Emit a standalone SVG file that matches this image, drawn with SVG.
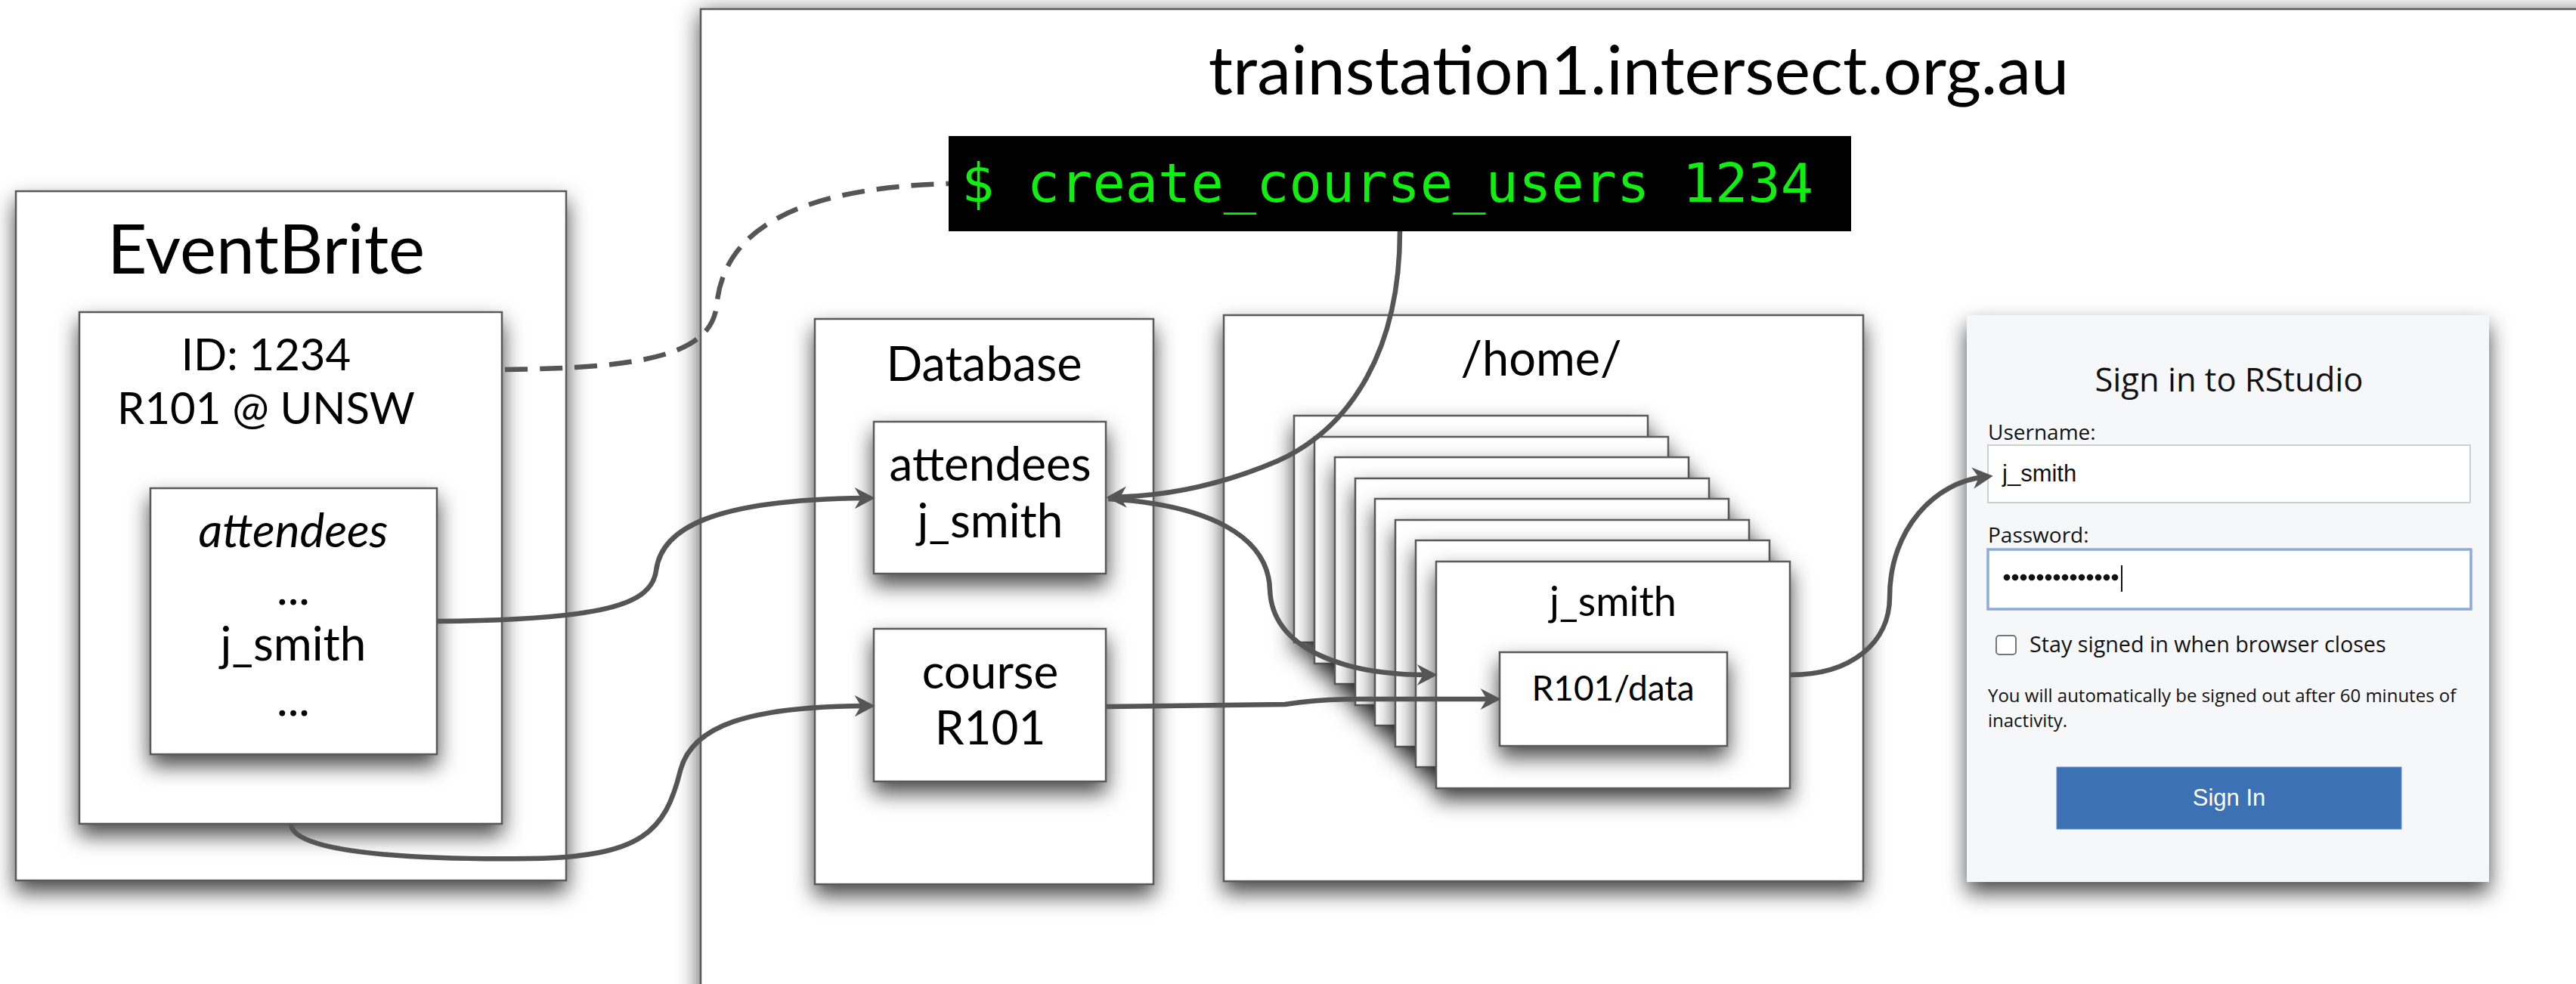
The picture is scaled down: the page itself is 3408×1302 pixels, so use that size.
<svg xmlns="http://www.w3.org/2000/svg" width="3408" height="1302" viewBox="0 0 3408 1302">
<defs>
<filter id="shadow" x="-30%" y="-30%" width="160%" height="170%" color-interpolation-filters="sRGB">
<feDropShadow dx="0" dy="14" stdDeviation="14" flood-color="#000" flood-opacity="0.72"/>
</filter>
<filter id="shadowBig" x="-5%" y="-5%" width="110%" height="110%" color-interpolation-filters="sRGB">
<feDropShadow dx="0" dy="6" stdDeviation="15" flood-color="#000" flood-opacity="0.7"/>
</filter>
<marker id="arrow" markerUnits="userSpaceOnUse" markerWidth="40" markerHeight="40" viewBox="-30 -16 34 32" refX="-10" refY="0" orient="auto">
<path d="M0,0 L-23,-12 L-16,0 L-23,12 Z" fill="#555"/>
</marker>
</defs>
<style>
.box{fill:#fff;stroke:#5a5a5a;stroke-width:2.5}
.lbl{font-family:Lato,'Liberation Sans',sans-serif;fill:#000;text-anchor:middle}
.conn{fill:none;stroke:#555;stroke-width:6.5}
.ui{font-family:'Open Sans','DejaVu Sans',sans-serif;fill:#111}
</style>
<rect width="3408" height="1302" fill="#fff"/>

<g id="eventbrite">
<rect class="box" x="21" y="253" width="728" height="912" filter="url(#shadow)"/>
<text class="lbl" x="352" y="362" font-size="91">EventBrite</text>
</g>
<g id="eventbrite-course">
<rect class="box" x="105" y="413" width="559" height="677" filter="url(#shadow)"/>
<text class="lbl" x="352" y="490" font-size="58">ID: 1234</text>
<text class="lbl" x="352" y="561" font-size="58">R101 @ UNSW</text>
</g>
<g id="eventbrite-attendees">
<rect class="box" x="199" y="646" width="379" height="352" filter="url(#shadow)"/>
<text class="lbl" x="388" y="724" font-size="62" font-style="italic">attendees</text>
<text class="lbl" x="388" y="800" font-size="62">...</text>
<text class="lbl" x="388" y="874" font-size="62">j_smith</text>
<text class="lbl" x="388" y="947" font-size="62">...</text>
</g>

<g id="trainstation">
<rect class="box" x="927" y="12" width="2600" height="1400" filter="url(#shadowBig)"/>
<text class="lbl" x="2168" y="125" font-size="90">trainstation1.intersect.org.au</text>
</g>
<g id="command">
<rect x="1255" y="180" width="1194" height="126" fill="#000"/>
<text x="1272" y="267" font-family="'DejaVu Sans Mono','Liberation Mono',monospace" font-size="72" fill="#11ee11">$ create_course_users 1234</text>
</g>

<g id="database">
<rect class="box" x="1078" y="422" width="448" height="748" filter="url(#shadow)"/>
<text class="lbl" x="1302" y="504" font-size="63">Database</text>
</g>
<g id="db-attendees">
<rect class="box" x="1156" y="558" width="307" height="201" filter="url(#shadow)"/>
<text class="lbl" x="1310" y="636" font-size="62">attendees</text>
<text class="lbl" x="1310" y="711" font-size="62">j_smith</text>
</g>
<g id="db-course">
<rect class="box" x="1156" y="832" width="307" height="202" filter="url(#shadow)"/>
<text class="lbl" x="1310" y="911" font-size="62">course</text>
<text class="lbl" x="1310" y="985" font-size="62">R101</text>
</g>

<g id="home">
<rect class="box" x="1619" y="417" width="846" height="749" filter="url(#shadow)"/>
<text class="lbl" x="2039" y="497" font-size="63">/home/</text>
</g>
<g id="home-users">
<rect class="box" x="1712" y="550" width="468" height="300" filter="url(#shadow)"/>
<rect class="box" x="1739" y="578" width="468" height="300" filter="url(#shadow)"/>
<rect class="box" x="1766" y="605" width="468" height="300" filter="url(#shadow)"/>
<rect class="box" x="1793" y="633" width="468" height="300" filter="url(#shadow)"/>
<rect class="box" x="1819" y="660" width="468" height="300" filter="url(#shadow)"/>
<rect class="box" x="1846" y="688" width="468" height="300" filter="url(#shadow)"/>
<rect class="box" x="1873" y="715" width="468" height="300" filter="url(#shadow)"/>
</g>
<g id="home-jsmith">
<rect class="box" x="1900" y="743" width="468" height="300" filter="url(#shadow)"/>
<text class="lbl" x="2134" y="815" font-size="54">j_smith</text>
</g>
<g id="home-data">
<rect class="box" x="1984" y="863" width="301" height="124" filter="url(#shadow)"/>
<text class="lbl" x="2134" y="927" font-size="46">R101/data</text>
</g>

<g id="rstudio">
<rect x="2602" y="417" width="691" height="750" fill="#f6f7f9" filter="url(#shadow)"/>
<text class="ui" x="2949" y="518" font-size="43.5" text-anchor="middle">Sign in to RStudio</text>
<text class="ui" x="2630" y="582" font-size="28">Username:</text>
<rect x="2630" y="589" width="638" height="76" fill="#fff" stroke="#cfcfcf" stroke-width="2"/>
<text x="2649" y="637" font-family="'Liberation Sans',Arial,sans-serif" font-size="31" fill="#111">j_smith</text>
<text class="ui" x="2630" y="718" font-size="28">Password:</text>
<rect x="2630" y="727" width="639" height="79" fill="#fff" stroke="#8ea9dc" stroke-width="3.5"/>
<g fill="#111">
<circle cx="2655" cy="764" r="4.3"/><circle cx="2666" cy="764" r="4.3"/><circle cx="2677" cy="764" r="4.3"/><circle cx="2688" cy="764" r="4.3"/><circle cx="2699" cy="764" r="4.3"/><circle cx="2710" cy="764" r="4.3"/><circle cx="2721" cy="764" r="4.3"/><circle cx="2732" cy="764" r="4.3"/><circle cx="2743" cy="764" r="4.3"/><circle cx="2754" cy="764" r="4.3"/><circle cx="2765" cy="764" r="4.3"/><circle cx="2776" cy="764" r="4.3"/><circle cx="2787" cy="764" r="4.3"/><circle cx="2798" cy="764" r="4.3"/>
</g>
<rect x="2806" y="748" width="2" height="35" fill="#111"/>
<rect x="2641" y="841" width="26" height="25" rx="4" fill="#fff" stroke="#777" stroke-width="2"/>
<text class="ui" x="2685" y="863" font-size="28.7">Stay signed in when browser closes</text>
<text class="ui" x="2630" y="929" font-size="24">You will automatically be signed out after 60 minutes of</text>
<text class="ui" x="2630" y="962" font-size="24">inactivity.</text>
<rect x="2721" y="1015" width="456" height="82" fill="#3c72b4" stroke="#5b8fcf" stroke-width="1"/>
<text x="2949" y="1066" font-family="'Liberation Sans',Arial,sans-serif" font-size="31" fill="#fff" text-anchor="middle">Sign In</text>
</g>

<g id="connectors">
<path class="conn" stroke-width="5" stroke-dasharray="30 16" d="M 668 489 C 850 487 940 470 948 405 C 955 330 1010 250 1255 243"/>
<path class="conn" marker-end="url(#arrow)" d="M 578 822 C 800 820 862 800 868 755 C 875 700 940 661 1146 659"/>
<path class="conn" marker-end="url(#arrow)" d="M 385 1090 C 385 1125 520 1138 700 1136 C 850 1134 880 1100 900 1020 C 915 960 990 935 1146 934"/>
<path class="conn" marker-end="url(#arrow)" d="M 1852 306 C 1852 460 1790 565 1690 610 C 1620 640 1550 656 1475 658"/>
<path class="conn" marker-end="url(#arrow)" d="M 1466 660 C 1600 668 1678 710 1680 780 C 1683 860 1780 893 1890 893"/>
<path class="conn" marker-end="url(#arrow)" d="M 1463 935 L 1700 932 C 1730 927 1760 925 1800 925 L 1974 925"/>
<path class="conn" marker-end="url(#arrow)" d="M 2368 893 C 2450 893 2500 850 2500 790 C 2500 700 2560 638 2625 631"/>
</g>
</svg>
